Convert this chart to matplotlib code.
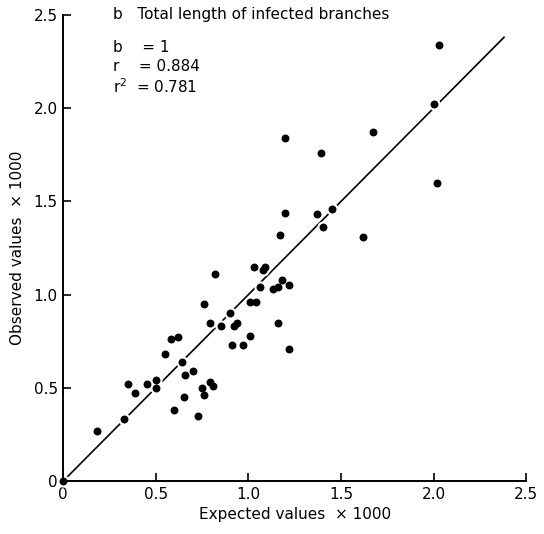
import numpy as np
import matplotlib
matplotlib.use("Agg")
import matplotlib.pyplot as plt

# expected vs observed (x 1000)
expected = [0.0, 0.18, 0.33, 0.35, 0.39, 0.45, 0.50, 0.50, 0.55, 0.58, 0.62,
            0.64, 0.66, 0.70, 0.65, 0.60, 0.73, 0.75, 0.79, 0.81, 0.76,
            0.76, 0.79, 0.82, 0.85, 0.90, 0.92, 0.94, 0.91, 0.97, 1.01,
            1.01, 1.04, 1.03, 1.09, 1.08, 1.06, 1.13, 1.16, 1.18, 1.22,
            1.16, 1.22, 1.20, 1.67, 1.39, 2.02, 1.20, 1.37, 1.45, 1.40,
            1.17, 1.62, 2.03, 2.00]
observed = [0.0, 0.27, 0.33, 0.52, 0.47, 0.52, 0.54, 0.50, 0.68, 0.76, 0.77,
            0.64, 0.57, 0.59, 0.45, 0.38, 0.35, 0.50, 0.53, 0.51, 0.46,
            0.95, 0.85, 1.11, 0.83, 0.90, 0.83, 0.85, 0.73, 0.73, 0.78,
            0.96, 0.96, 1.15, 1.15, 1.13, 1.04, 1.03, 1.04, 1.08, 1.05,
            0.85, 0.71, 1.84, 1.87, 1.76, 1.60, 1.44, 1.43, 1.46, 1.36,
            1.32, 1.31, 2.34, 2.02]

fit_x = [0.0, 2.38]
slope = 1.0

title = "b   Total length of infected branches"
stats = ["b    = 1", "r    = 0.884", r"r$^2$  = 0.781"]

plt.rcParams['font.family'] = ['DejaVu Sans']

fig = plt.figure(figsize=(5.44, 5.34), dpi=100)
ax = fig.add_axes([0.1163, 0.0993, 0.851, 0.8727])

fx = np.array(fit_x)
ax.plot(fx, slope * fx, color='black', lw=1.2, zorder=1)
ax.scatter(expected, observed, s=60, color='white', zorder=2, clip_on=False)
ax.scatter(expected, observed, s=22, color='black', zorder=3, clip_on=False)

ax.set_xlim(0, 2.5)
ax.set_ylim(0, 2.5)
ticks = [0, 0.5, 1.0, 1.5, 2.0, 2.5]
labels = ['0', '0.5', '1.0', '1.5', '2.0', '2.5']
ax.set_xticks(ticks)
ax.set_xticklabels(labels)
ax.set_yticks(ticks)
ax.set_yticklabels(labels)
ax.tick_params(direction='in', length=6, width=1.2, labelsize=11, pad=4)

for s in ['top', 'right']:
    ax.spines[s].set_visible(False)
for s in ['left', 'bottom']:
    ax.spines[s].set_linewidth(1.4)

ax.set_xlabel("Expected values  × 1000", fontsize=11, labelpad=4)
ax.set_ylabel("Observed values  × 1000", fontsize=11, labelpad=6)

ax.text(0.107, 1.0, title, transform=ax.transAxes, fontsize=11,
        va='center', ha='left')
for i, line in enumerate(stats):
    ax.text(0.107, 0.931 - i * 0.042, line, transform=ax.transAxes,
            fontsize=11, va='center', ha='left')

fig.savefig("out.png", dpi=100)
